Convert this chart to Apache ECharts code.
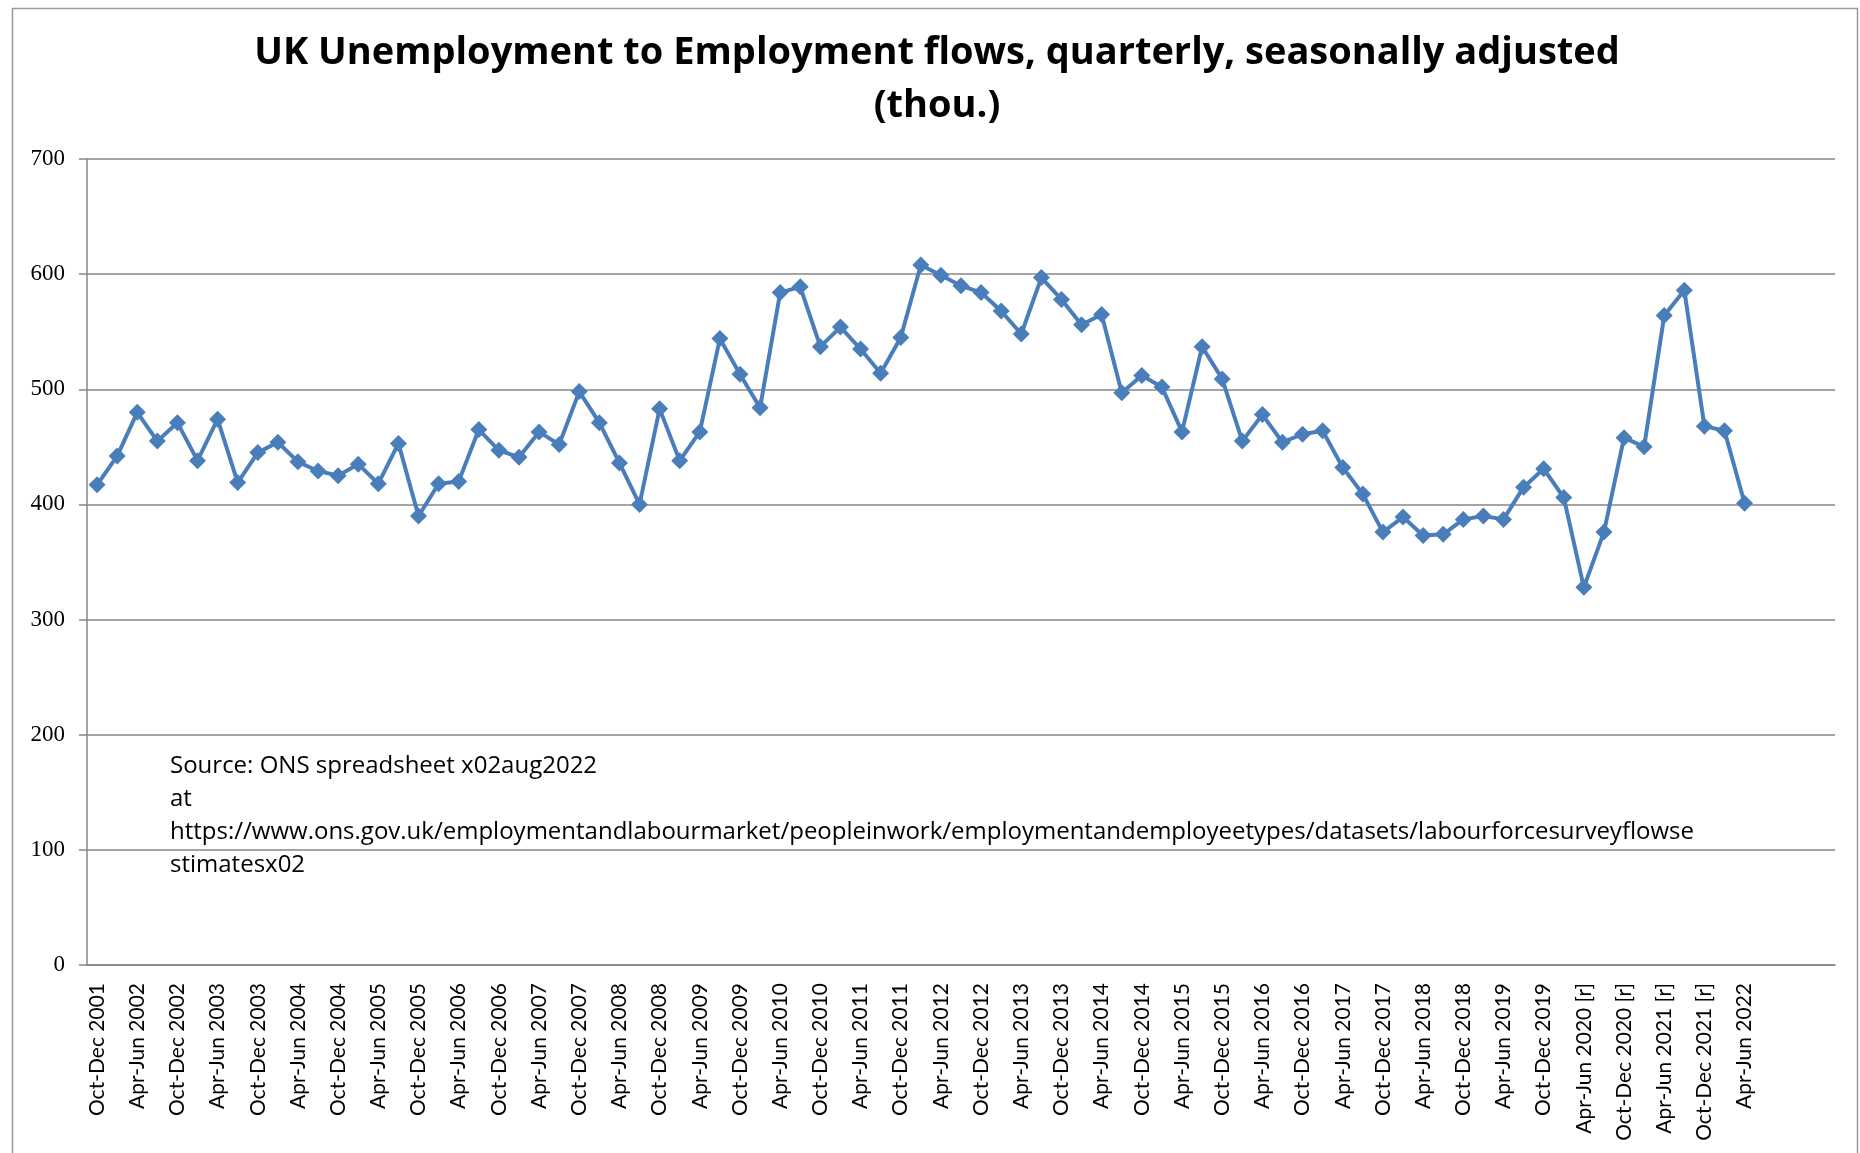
<!DOCTYPE html>
<html>
<head>
<meta charset="utf-8">
<title>UK Unemployment to Employment flows</title>
<script src="https://cdn.jsdelivr.net/npm/echarts@6/dist/echarts.min.js"></script>
<style>
  html, body { margin: 0; padding: 0; background: #fff; }
  #chart { width: 1860px; height: 1153px; }
</style>
</head>
<body>
<div id="chart"></div>
<script>
// quarters, Oct-Dec 2001 .. Apr-Jun 2022 ([r] = revised)
const quarters = [
  'Oct-Dec 2001',
  'Jan-Mar 2002', 'Apr-Jun 2002', 'Jul-Sep 2002', 'Oct-Dec 2002',
  'Jan-Mar 2003', 'Apr-Jun 2003', 'Jul-Sep 2003', 'Oct-Dec 2003',
  'Jan-Mar 2004', 'Apr-Jun 2004', 'Jul-Sep 2004', 'Oct-Dec 2004',
  'Jan-Mar 2005', 'Apr-Jun 2005', 'Jul-Sep 2005', 'Oct-Dec 2005',
  'Jan-Mar 2006', 'Apr-Jun 2006', 'Jul-Sep 2006', 'Oct-Dec 2006',
  'Jan-Mar 2007', 'Apr-Jun 2007', 'Jul-Sep 2007', 'Oct-Dec 2007',
  'Jan-Mar 2008', 'Apr-Jun 2008', 'Jul-Sep 2008', 'Oct-Dec 2008',
  'Jan-Mar 2009', 'Apr-Jun 2009', 'Jul-Sep 2009', 'Oct-Dec 2009',
  'Jan-Mar 2010', 'Apr-Jun 2010', 'Jul-Sep 2010', 'Oct-Dec 2010',
  'Jan-Mar 2011', 'Apr-Jun 2011', 'Jul-Sep 2011', 'Oct-Dec 2011',
  'Jan-Mar 2012', 'Apr-Jun 2012', 'Jul-Sep 2012', 'Oct-Dec 2012',
  'Jan-Mar 2013', 'Apr-Jun 2013', 'Jul-Sep 2013', 'Oct-Dec 2013',
  'Jan-Mar 2014', 'Apr-Jun 2014', 'Jul-Sep 2014', 'Oct-Dec 2014',
  'Jan-Mar 2015', 'Apr-Jun 2015', 'Jul-Sep 2015', 'Oct-Dec 2015',
  'Jan-Mar 2016', 'Apr-Jun 2016', 'Jul-Sep 2016', 'Oct-Dec 2016',
  'Jan-Mar 2017', 'Apr-Jun 2017', 'Jul-Sep 2017', 'Oct-Dec 2017',
  'Jan-Mar 2018', 'Apr-Jun 2018', 'Jul-Sep 2018', 'Oct-Dec 2018',
  'Jan-Mar 2019', 'Apr-Jun 2019', 'Jul-Sep 2019', 'Oct-Dec 2019',
  'Jan-Mar 2020 [r]', 'Apr-Jun 2020 [r]', 'Jul-Sep 2020 [r]', 'Oct-Dec 2020 [r]',
  'Jan-Mar 2021 [r]', 'Apr-Jun 2021 [r]', 'Jul-Sep 2021 [r]', 'Oct-Dec 2021 [r]',
  'Jan-Mar 2022', 'Apr-Jun 2022'
];
// the Excel axis runs on for a few empty slots
const emptySlots = ['', '', '', ''];

// U -> E flows, thousands
const flows = [
  417, 442, 480, 455, 471, 438, 474, 419, 445, 454,
  437, 429, 425, 435, 418, 453, 390, 418, 420, 465,
  447, 441, 463, 452, 498, 471, 436, 400, 483, 438,
  463, 544, 513, 484, 584, 589, 537, 554, 535, 514,
  545, 608, 599, 590, 584, 568, 548, 597, 578, 556,
  565, 497, 512, 502, 463, 537, 509, 455, 478, 454,
  461, 464, 432, 409, 376, 389, 373, 374, 387, 390,
  387, 415, 431, 406, 328, 376, 458, 450, 564, 586,
  468, 464, 401
];

const sourceLines = [
  'Source: ONS spreadsheet x02aug2022',
  'at',
  'https://www.ons.gov.uk/employmentandlabourmarket/peopleinwork/employmentandemployeetypes/datasets/labourforcesurveyflowse',
  'stimatesx02'
];

const chart = echarts.init(document.getElementById('chart'));
const axisGrey = '#868686';

chart.setOption({
  animation: false,
  backgroundColor: '#fff',
  title: {
    text: 'UK Unemployment to Employment flows, quarterly, seasonally adjusted\n(thou.)',
    left: 937,
    top: 27,
    padding: 0,
    textAlign: 'center',
    textStyle: {
      fontFamily: 'Open Sans',
      fontWeight: 'bold',
      fontSize: 38,
      lineHeight: 53,
      color: '#000'
    }
  },
  grid: { left: 87, right: 25, top: 159, bottom: 188, containLabel: false },
  xAxis: {
    type: 'category',
    data: quarters.concat(emptySlots),
    boundaryGap: true,
    axisLine: { lineStyle: { color: axisGrey, width: 1.5 } },
    axisTick: { interval: 0, length: 7, alignWithLabel: false, lineStyle: { color: axisGrey, width: 1.5 } },
    axisLabel: {
      interval: 1,
      rotate: 90,
      margin: 18,
      fontFamily: 'Lato',
      fontSize: 21,
      color: '#000'
    },
    splitLine: { show: false }
  },
  yAxis: {
    type: 'value',
    min: 0,
    max: 700,
    interval: 100,
    axisLine: { show: true, lineStyle: { color: axisGrey, width: 1.5 } },
    axisTick: { show: true, length: 8, lineStyle: { color: axisGrey, width: 1.5 } },
    axisLabel: {
      margin: 22,
      fontFamily: 'Liberation Serif',
      fontSize: 23,
      color: '#000'
    },
    splitLine: { lineStyle: { color: axisGrey, width: 1.5 } }
  },
  series: [{
    name: 'U to E flows',
    type: 'line',
    data: flows,
    symbol: 'diamond',
    symbolSize: 17,
    showAllSymbol: true,
    lineStyle: { color: '#4a7ebb', width: 4 },
    itemStyle: { color: '#4a7ebb' }
  }],
  graphic: [
    {
      type: 'rect',
      left: 10,
      top: 6,
      shape: { width: 1845, height: 1152 },
      style: { fill: 'none', stroke: '#9a9a9a', lineWidth: 1.5 },
      silent: true,
      z: -1
    },
    {
      type: 'text',
      left: 170,
      top: 750,
      style: {
        text: sourceLines.join('\n'),
        fontFamily: 'Open Sans',
        fontSize: 24,
        lineHeight: 33,
        fill: '#000'
      }
    }
  ]
});
</script>
</body>
</html>
